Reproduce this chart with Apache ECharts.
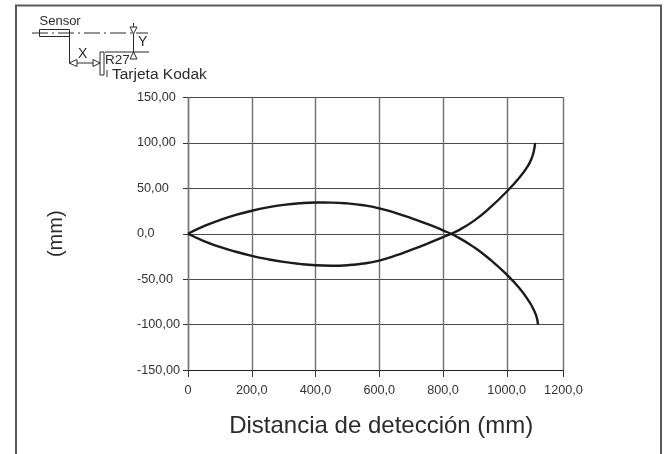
<!DOCTYPE html>
<html><head><meta charset="utf-8">
<style>html,body{margin:0;padding:0;background:#fff}#c{width:667px;height:454px}</style>
<script src="https://cdn.jsdelivr.net/npm/echarts@6/dist/echarts.min.js"></script></head>
<body><div id="c"></div>
<script>
const fallingX = [0,50,100,150,200,250,300,350,400,450,500,550,600,650,700,750,800,850,900,950,1000,1040,1070,1085,1094,1098];
const fallingY = [0,8.3,15,20.7,25.3,29,31.8,33.6,34.4,34.3,33.4,31.4,28,23,17.2,10.8,3.8,-4.5,-15.5,-29,-45,-60,-74.5,-84,-92,-100];
const risingX = [0,50,100,150,200,250,300,350,400,450,500,550,600,650,700,750,800,850,900,950,1000,1040,1065,1078,1085,1089];
const risingY = [0,-8,-14.5,-19.8,-24.3,-28,-31,-33.2,-34.7,-35.2,-34.6,-32.8,-29.5,-24.2,-17.8,-11,-3.8,4,15,29.5,46.5,62,74,83,91,100];
const xTickLabels = ['0','200,0','400,0','600,0','800,0','1000,0','1200,0'];
const yTickLabels = {'150':'150,00','100':'100,00','50':'50,00','0':'0,0','-50':'-50,00','-100':'-100,00','-150':'-150,00'};
const xAxisEnd = 1178; // the last grid division of the reference is drawn narrower than the others
const font = '"Liberation Sans", Arial, sans-serif';
const ink = '#2b2b2b';
const line = (x1,y1,x2,y2,extra) => ({type:'line',shape:{x1,y1,x2,y2},style:Object.assign({stroke:ink,lineWidth:1},extra||{}),silent:true});
const tri = (pts) => ({type:'polygon',shape:{points:pts},style:{fill:'#fff',stroke:ink,lineWidth:1},silent:true});
const txt = (x,y,text,size) => ({type:'text',x,y,style:{text,fontFamily:font,fontSize:size,fill:ink,textAlign:'left',textVerticalAlign:'middle'},silent:true});
const zip = (a,b) => a.map((v,i)=>[v,b[i]]);
const chart = echarts.init(document.getElementById('c'),null,{renderer:'canvas'});
chart.setOption({
  animation:false,
  backgroundColor:'#fff',
  grid:{left:188,top:97.5,width:375.5,height:272.5,containLabel:false},
  xAxis:{type:'value',min:0,max:xAxisEnd,interval:200,
    name:'Distancia de detección (mm)',nameLocation:'middle',nameGap:44,
    nameTextStyle:{fontFamily:font,fontSize:24,color:ink,padding:[0,0,0,11]},
    axisLine:{onZero:false,lineStyle:{color:'#222',width:1.2}},
    axisTick:{length:7,lineStyle:{color:'#333'}},
    axisLabel:{fontFamily:font,fontSize:12.7,color:'#333',margin:14,showMaxLabel:true,
      formatter:v=> v===xAxisEnd ? xTickLabels[6] : xTickLabels[Math.round(v/200)]},
    splitLine:{show:true,lineStyle:{color:'#6f6f6f',width:1.4}}},
  yAxis:{type:'value',min:-150,max:150,interval:50,
    name:'(mm)',nameLocation:'middle',nameGap:122,nameRotate:90,
    nameTextStyle:{fontFamily:font,fontSize:20,color:ink},
    axisLine:{onZero:false,lineStyle:{color:'#777',width:1.4}},
    axisTick:{length:5,lineStyle:{color:'#333'}},
    axisLabel:{fontFamily:font,fontSize:12.7,color:'#333',align:'left',margin:51,
      formatter:v=>yTickLabels[String(v)]},
    splitLine:{show:true,lineStyle:{color:'#4a4a4a',width:1.1}}},
  series:[
    {type:'line',data:zip(fallingX,fallingY),showSymbol:false,smooth:0.5,clip:false,lineStyle:{color:'#1e1a1a',width:2.4}},
    {type:'line',data:zip(risingX,risingY),showSymbol:false,smooth:0.5,clip:false,lineStyle:{color:'#1e1a1a',width:2.4}}
  ],
  graphic:{elements:[
    {type:'polyline',shape:{points:[[16,454],[16,5.5],[661,5.5],[661,454]]},style:{stroke:'#5a5a5a',fill:'none',lineWidth:2},silent:true},
    txt(39.5,21.5,'Sensor',13),
    {type:'rect',shape:{x:39.5,y:29.5,width:30,height:7},style:{fill:'none',stroke:ink,lineWidth:1},silent:true},
    line(32,33,148,33,{lineDash:[16,4,2,4]}),
    line(69.5,36,69.5,63),
    line(70,63,100,63),
    tri([[69,63],[77,59.5],[77,66.5]]),
    tri([[100,63],[93,59.5],[93,66.5]]),
    {type:'rect',shape:{x:100,y:52,width:4,height:23},style:{fill:'#fff',stroke:ink,lineWidth:1},silent:true},
    txt(78,54.5,'X',14),
    txt(105,60,'R27',13.5),
    line(133.5,23,133.5,59),
    line(105,52,149,52),
    tri([[133.5,34],[130,27],[137,27]]),
    tri([[133.5,52],[130,59],[137,59]]),
    txt(138,42.5,'Y',14),
    line(107,70,107,77),
    txt(112,75,'Tarjeta Kodak',15.5)
  ]}
});
</script></body></html>
